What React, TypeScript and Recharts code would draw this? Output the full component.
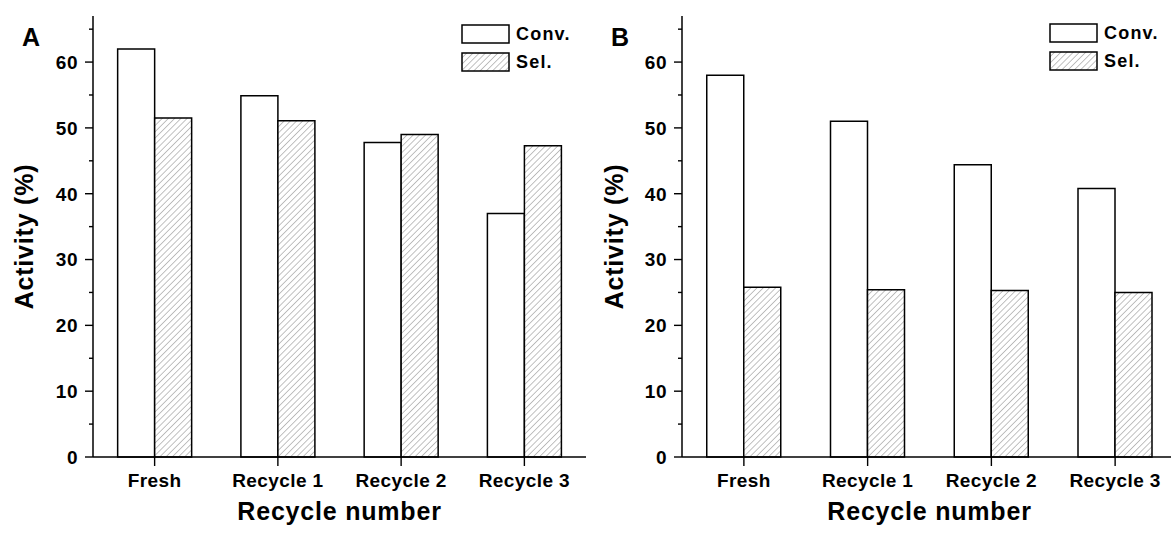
import { BarChart, Bar, XAxis, YAxis, Legend } from "recharts";

const categories = ["Fresh", "Recycle 1", "Recycle 2", "Recycle 3"];
const convA = [62.0, 54.9, 47.8, 37.0];
const selA = [51.5, 51.1, 49.0, 47.3];
const convB = [58.0, 51.0, 44.4, 40.8];
const selB = [25.8, 25.4, 25.3, 25.0];
const yTicks = [0, 5, 10, 15, 20, 25, 30, 35, 40, 45, 50, 55, 60, 65];
const boundaryTicks = [0, 1, 2, 3, 4];
const yDomain: [number, number] = [0, 67];

const FONT = "'Liberation Sans', Arial, sans-serif";
const axisLine = { stroke: "#000", strokeWidth: 1.5 };

/* eslint-disable @typescript-eslint/no-explicit-any */
function YTick(props: any) {
  const { x, y, payload } = props;
  const major = payload.value % 10 === 0;
  return (
    <g>
      <line x1={x - (major ? 8 : 4)} x2={x} y1={y} y2={y} stroke="#000" strokeWidth={1.4} />
      {major && (
        <text
          x={x - 15}
          y={y}
          dy="0.36em"
          textAnchor="end"
          fontFamily={FONT}
          fontWeight={700}
          fontSize={19}
          letterSpacing={0.5}
          fill="#000"
        >
          {payload.value}
        </text>
      )}
    </g>
  );
}

function XTick(props: any) {
  const { x, y, payload } = props;
  return (
    <g>
      <line x1={x} x2={x} y1={y} y2={y + 9} stroke="#000" strokeWidth={1.4} />
      <text
        x={x}
        y={y + 16.5}
        dy="0.71em"
        textAnchor="middle"
        fontFamily={FONT}
        fontWeight={700}
        fontSize={19}
        letterSpacing={0.4}
        fill="#000"
      >
        {payload.value}
      </text>
    </g>
  );
}

function legendContent(patternId: string) {
  const row = (label: string, fill: string) => (
    <div style={{ display: "flex", alignItems: "center", height: 28 }}>
      <svg width={50} height={21} style={{ display: "block" }}>
        <rect x={1} y={1} width={47} height={18} fill={fill} stroke="#000" strokeWidth={1.5} />
      </svg>
      <span
        style={{
          marginLeft: 5,
          fontFamily: FONT,
          fontWeight: 700,
          fontSize: 18,
          letterSpacing: 1.2,
          color: "#000",
        }}
      >
        {label}
      </span>
    </div>
  );
  return () => (
    <div>
      {row("Conv.", "#fff")}
      {row("Sel.", `url(#${patternId})`)}
    </div>
  );
}
/* eslint-enable @typescript-eslint/no-explicit-any */

interface PanelProps {
  letter: string;
  conv: number[];
  sel: number[];
  left: number;
  width: number;
  yWidth: number;
  letterX: number;
  legendX: number;
  legendY: number;
  patternId: string;
}

function Panel({ letter, conv, sel, left, width, yWidth, letterX, legendX, legendY, patternId }: PanelProps) {
  const data = categories.map((name, i) => ({ name, conv: conv[i], sel: sel[i] }));
  const titleStyle = { fontFamily: FONT, fontWeight: 700, fontSize: 25, letterSpacing: 0.8, fill: "#000" };
  return (
    <div style={{ position: "absolute", left, top: 0, width, height: 539 }}>
      <BarChart
        width={width}
        height={539}
        data={data}
        margin={{ top: 16, right: 14, left: 0, bottom: 12 }}
        barCategoryGap="20%"
        barGap={0}
      >
        <defs>
          <pattern
            id={patternId}
            patternUnits="userSpaceOnUse"
            width={4.4}
            height={4.4}
            patternTransform="rotate(45)"
          >
            <rect width={4.4} height={4.4} fill="#fff" />
            <line x1={0} y1={0} x2={0} y2={4.4} stroke="#666" strokeWidth={0.8} />
          </pattern>
        </defs>
        <XAxis
          xAxisId="minor"
          type="number"
          domain={[0, 4]}
          ticks={boundaryTicks}
          allowDataOverflow
          height={0}
          tick={false}
          tickSize={5}
          tickLine={{ stroke: "#000", strokeWidth: 1.4 }}
          axisLine={false}
        />
        <XAxis
          xAxisId="main"
          dataKey="name"
          height={70}
          interval={0}
          tickSize={0}
          tickMargin={0}
          tickLine={false}
          tick={<XTick />}
          axisLine={axisLine}
          label={{
            value: "Recycle number",
            position: "insideBottom",
            offset: 7,
            style: titleStyle,
          }}
        />
        <XAxis
          xAxisId="top"
          orientation="top"
          dataKey="name"
          height={0}
          tick={false}
          tickLine={false}
          axisLine={{ stroke: "#000", strokeWidth: 1.3 }}
        />
        <YAxis
          yAxisId="main"
          domain={yDomain}
          ticks={yTicks}
          interval={0}
          width={yWidth}
          tickSize={0}
          tickMargin={0}
          tickLine={false}
          tick={<YTick />}
          axisLine={axisLine}
          label={{
            value: "Activity (%)",
            angle: -90,
            position: "insideLeft",
            offset: 24,
            style: { ...titleStyle, textAnchor: "middle" },
          }}
        />
        <YAxis
          yAxisId="right"
          orientation="right"
          domain={yDomain}
          width={0}
          tick={false}
          tickLine={false}
          axisLine={{ stroke: "#000", strokeWidth: 1.3 }}
        />
        <Bar
          xAxisId="main"
          yAxisId="main"
          dataKey="conv"
          name="Conv."
          fill="#fff"
          stroke="#000"
          strokeWidth={1.5}
          isAnimationActive={false}
        />
        <Bar
          xAxisId="main"
          yAxisId="main"
          dataKey="sel"
          name="Sel."
          fill={`url(#${patternId})`}
          stroke="#000"
          strokeWidth={1.5}
          isAnimationActive={false}
        />
        <Legend
          layout="horizontal"
          verticalAlign="middle"
          content={legendContent(patternId)}
          wrapperStyle={{ left: legendX, top: legendY, width: 130, height: 60 }}
        />
      </BarChart>
      <svg width={60} height={60} style={{ position: "absolute", left: 0, top: 0 }}>
        <text x={letterX} y={46} fontFamily={FONT} fontWeight={700} fontSize={25} fill="#000">
          {letter}
        </text>
      </svg>
    </div>
  );
}

export default function App() {
  return (
    <div
      style={{
        position: "fixed",
        left: 0,
        top: 0,
        width: 1171,
        height: 539,
        overflow: "hidden",
        background: "#fff",
      }}
    >
      <Panel
        letter="A"
        conv={convA}
        sel={selA}
        left={0}
        width={600}
        yWidth={93}
        letterX={22}
        legendX={461}
        legendY={20}
        patternId="hatchA"
      />
      <Panel
        letter="B"
        conv={convB}
        sel={selB}
        left={590}
        width={601}
        yWidth={92}
        letterX={21}
        legendX={459}
        legendY={19}
        patternId="hatchB"
      />
    </div>
  );
}
